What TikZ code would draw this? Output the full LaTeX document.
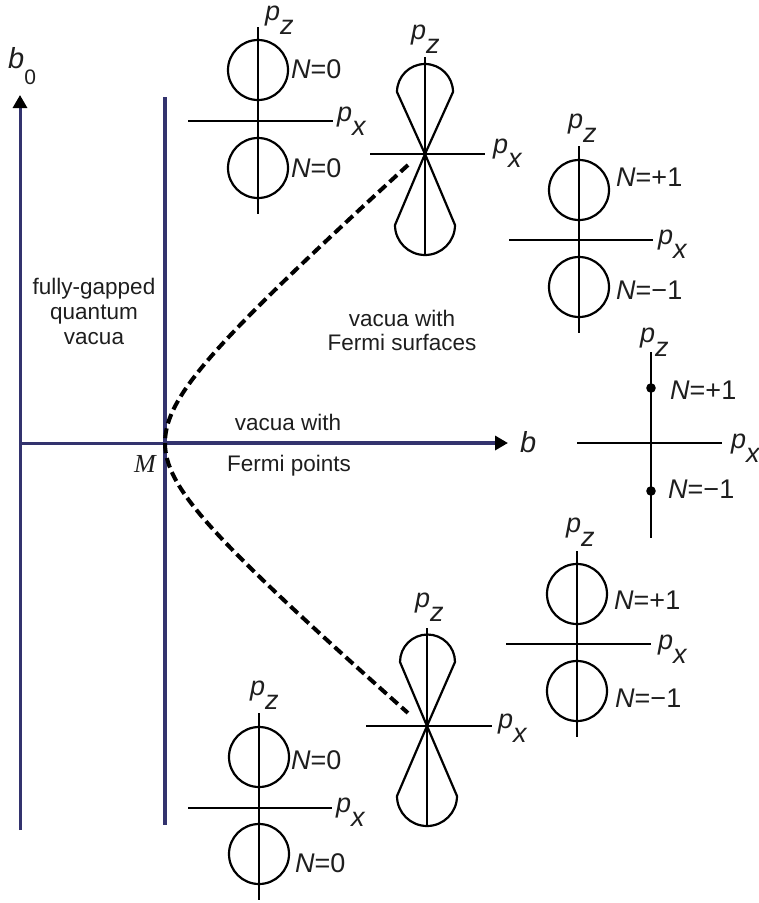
\documentclass[tikz,border=0pt]{standalone}
\usepackage{fontspec}
\setmainfont{Liberation Sans}
\newfontfamily\tmsfont{Liberation Serif}
\usetikzlibrary{arrows.meta}
\definecolor{axisblue}{RGB}{51,51,110}
\definecolor{txt}{RGB}{30,30,30}
\newcommand{\plab}[1]{\textit{p}\raisebox{-0.52em}{\textit{#1}}}
\begin{document}
\begin{tikzpicture}[x=1pt,y=-1pt,
  thin line/.style={line width=2.2pt, black},
  axthin/.style={line width=3pt, axisblue},
  axthick/.style={line width=4.5pt, axisblue},
  tipstyle/.style={-{Triangle[length=13pt,width=14pt,color=black,fill=black]}},
  lbl/.style={font=\fontsize{27}{32}\selectfont, text=txt, inner sep=0pt, anchor=base west},
  body/.style={font=\fontsize{22.5}{26}\selectfont, text=txt, inner sep=0pt, anchor=base},
  curve/.style={line width=4pt, black, dash pattern=on 10pt off 5pt}]
\useasboundingbox (0,0) rectangle (759,903);

% ---- axes ----
\coordinate (M) at (165,443);
\coordinate (b0bot) at (20,830);
\coordinate (b0top) at (20,95);
\coordinate (hleft) at (20,443);
\coordinate (btip) at (508,443);
\coordinate (vtop) at (165,97);
\coordinate (vbot) at (165,825);
\draw[axthin, tipstyle] (b0bot) -- (b0top);
\draw[axthin] (hleft) -- (M);
\draw[axthick] (vtop) -- (vbot);
\draw[axthick, tipstyle] (M) -- (btip);

% ---- dashed curve: hyperbola through M ----
\coordinate (ctop) at (408,165);
\coordinate (cbot) at (408,713);
\draw[curve] plot[smooth, domain=-2.78:2.70, samples=109]
  ({85+100*sqrt(0.64+(\x<0 ? 1.2671 : 1.3433)*\x*\x)}, {443+100*\x});

% ---- top-left: two circles N=0 ----
\draw[thin line] (258,27) -- (258,214);
\draw[thin line] (188,121) -- (333,121);
\draw[thin line] (258,70) circle[radius=30];
\draw[thin line] (258,168) circle[radius=30];

% ---- top cone ----
\coordinate (tc) at (425,154);
\draw[thin line] (370,154) -- (485,154);
\draw[thin line] (425,57) -- (425,255);
\draw[thin line] (tc) -- (397,92) arc (180:360:28) -- (tc);
\draw[thin line] (tc) -- (395,225) arc (180:0:30) -- (tc);

% ---- top-right: N=+1 / N=-1 ----
\draw[thin line] (579,146) -- (579,333);
\draw[thin line] (509,240) -- (653,240);
\draw[thin line] (579,190) circle[radius=30];
\draw[thin line] (579,287) circle[radius=30];

% ---- right: Fermi points ----
\draw[thin line] (651,352) -- (651,538);
\draw[thin line] (577,443) -- (722,443);
\fill[black] (651,388) circle[radius=4.8];
\fill[black] (651,491) circle[radius=4.8];

% ---- bottom-right: N=+1 / N=-1 ----
\draw[thin line] (577,551) -- (577,737);
\draw[thin line] (506,644) -- (651,644);
\draw[thin line] (577,594) circle[radius=30];
\draw[thin line] (577,691) circle[radius=30];

% ---- bottom cone ----
\coordinate (bc) at (427,726);
\draw[thin line] (366,726) -- (492,726);
\draw[thin line] (427,628) -- (427,827);
\draw[thin line] (bc) -- (400,662) arc (180:360:27.5) -- (bc);
\draw[thin line] (bc) -- (397,796) arc (180:0:30) -- (bc);

% ---- bottom-left: two circles N=0 ----
\draw[thin line] (259,713) -- (259,900);
\draw[thin line] (188,808) -- (332,808);
\draw[thin line] (259,757) circle[radius=30];
\draw[thin line] (259,854) circle[radius=30];

% ---- labels ----
\node[lbl] (pzTL) at (265,20) {\plab{z}};
\node[lbl] (pxTL) at (337,121) {\plab{x}};
\node[lbl] (nTLa) at (291,78) {\textit{N}=0};
\node[lbl] (nTLb) at (291,177) {\textit{N}=0};
\node[lbl] (pzTC) at (411,39) {\plab{z}};
\node[lbl] (pxTC) at (493,153) {\plab{x}};
\node[lbl] (pzTR) at (568,128) {\plab{z}};
\node[lbl] (nTRa) at (616,186) {\textit{N}=+1};
\node[lbl] (pxTR) at (658,244) {\plab{x}};
\node[lbl] (nTRb) at (616,299) {\textit{N}=−1};
\node[lbl] (pzR) at (640,342) {\plab{z}};
\node[lbl] (nRa) at (670,399) {\textit{N}=+1};
\node[lbl] (pxR) at (731,448) {\plab{x}};
\node[lbl] (nRb) at (668,498) {\textit{N}=−1};
\node[lbl] (pzBR) at (566,532) {\plab{z}};
\node[lbl] (nBRa) at (614,609) {\textit{N}=+1};
\node[lbl] (pxBR) at (658,649) {\plab{x}};
\node[lbl] (nBRb) at (615,707) {\textit{N}=−1};
\node[lbl] (pzBC) at (415,607) {\plab{z}};
\node[lbl] (pxBC) at (498,728) {\plab{x}};
\node[lbl] (pzBL) at (250,695) {\plab{z}};
\node[lbl] (nBLa) at (291,769) {\textit{N}=0};
\node[lbl] (pxBL) at (336,812) {\plab{x}};
\node[lbl] (nBLb) at (295,872) {\textit{N}=0};

\node[anchor=base west, inner sep=0pt, text=txt, font=\fontsize{29}{32}\selectfont] (blab) at (520,452) {\textit{b}};
\node[anchor=base west, inner sep=0pt, text=txt, font=\fontsize{29}{32}\selectfont] (b0lab) at (8,68) {\textit{b}\raisebox{-0.58em}{\fontsize{21}{24}\selectfont 0}};
\node[anchor=base east, inner sep=0pt, text=txt, font=\tmsfont\itshape\fontsize{26}{28}\selectfont] (Mlab) at (156,472) {M};

\node[body] (fp1) at (288,430) {vacua with};
\node[body] (fp2) at (289,471) {Fermi points};
\node[body] (fg1) at (94,294) {fully-gapped};
\node[body] (fg2) at (94,319) {quantum};
\node[body] (fg3) at (94,344) {vacua};
\node[body] (fs1) at (402,326) {vacua with};
\node[body] (fs2) at (402,350) {Fermi surfaces};
\end{tikzpicture}
\end{document}
